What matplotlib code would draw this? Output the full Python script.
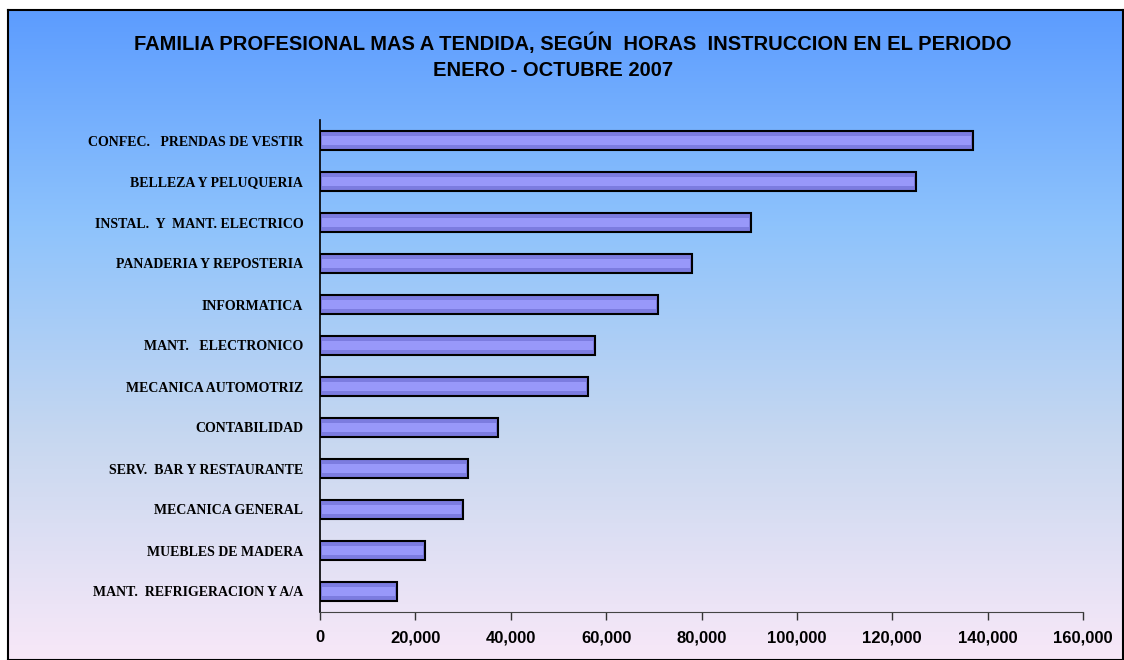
import numpy as np
import matplotlib
matplotlib.use('Agg')
import matplotlib.pyplot as plt
from matplotlib.colors import LinearSegmentedColormap

# ---- data ----
familias = ['CONFEC.   PRENDAS DE VESTIR', 'BELLEZA Y PELUQUERIA',
            'INSTAL.  Y  MANT. ELECTRICO', 'PANADERIA Y REPOSTERIA',
            'INFORMATICA', 'MANT.   ELECTRONICO', 'MECANICA AUTOMOTRIZ',
            'CONTABILIDAD', 'SERV.  BAR Y RESTAURANTE', 'MECANICA GENERAL',
            'MUEBLES DE MADERA', 'MANT.  REFRIGERACION Y A/A']
horas = [137000, 125000, 90400, 78000, 70900, 57700, 56200,
         37300, 31000, 30000, 22000, 16100]
xticks = [0, 20000, 40000, 60000, 80000, 100000, 120000, 140000, 160000]

fig = plt.figure(figsize=(11.24, 6.60), dpi=100)

# background gradient (blue -> lavender/pink)
bg = fig.add_axes([0.007, 0.0, 0.992, 0.985], zorder=0)
cmap = LinearSegmentedColormap.from_list('bg', ['#5c9cff', '#8ec3fc', '#c8d8f0', '#f8e8f8'])
grad = np.linspace(0, 1, 256).reshape(-1, 1)
bg.imshow(grad, aspect='auto', cmap=cmap, extent=[0, 1, 0, 1])
bg.set_xticks([])
bg.set_yticks([])
for s in bg.spines.values():
    s.set_linewidth(1.5)
    s.set_color('black')

ax = fig.add_axes([320 / 1124, 1 - 612 / 660, (1083 - 320) / 1124, (612 - 120) / 660], zorder=1)
ax.patch.set_alpha(0)

y = np.arange(len(familias))
ax.barh(y, horas, height=0.44, color='#7c7ce0', edgecolor='black', linewidth=1.5)
# lighter middle band for the shaded (cylinder-like) look
ax.barh(y, [h - 800 for h in horas], height=0.24, left=400, color='#9898fa', linewidth=0)

ax.set_ylim(len(familias) - 0.5, -0.5)
ax.set_xlim(0, 160000)
ax.set_yticks(y)
ax.set_yticklabels(familias, fontfamily='Liberation Serif', fontweight='bold', fontsize=10)
ax.set_xticks(xticks)
ax.set_xticklabels(['{:,}'.format(v) for v in xticks], fontfamily='Liberation Sans',
                   fontweight='bold', fontsize=12)
ax.tick_params(axis='y', length=0, pad=12)
ax.tick_params(axis='x', direction='out', length=6, width=1, color='#333333', pad=7)
ax.spines['top'].set_visible(False)
ax.spines['right'].set_visible(False)
ax.spines['left'].set_linewidth(1.2)
ax.spines['bottom'].set_color('#444444')

fig.text(0.510, 0.934, 'FAMILIA PROFESIONAL MAS A TENDIDA, SEGÚN  HORAS  INSTRUCCION EN EL PERIODO',
         ha='center', va='center', fontfamily='Liberation Sans', fontweight='bold', fontsize=14.5)
fig.text(0.492, 0.893, 'ENERO - OCTUBRE 2007',
         ha='center', va='center', fontfamily='Liberation Sans', fontweight='bold', fontsize=14.5)

fig.savefig('out.png', dpi=100, facecolor='white')
